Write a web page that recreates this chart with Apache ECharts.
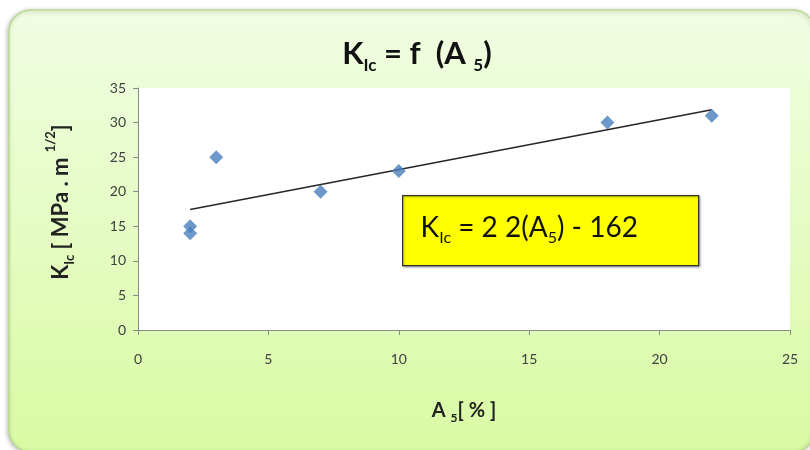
<!DOCTYPE html>
<html>
<head>
<meta charset="utf-8">
<script src="https://cdn.jsdelivr.net/npm/echarts@6/dist/echarts.min.js"></script>
<style>
  html, body { margin: 0; padding: 0; background: #ffffff; }
  #chart { width: 810px; height: 450px; }
</style>
</head>
<body>
<div id="chart"></div>
<script>
// Fracture toughness K_Ic against elongation A5
const elongation = [2, 2, 3, 7, 10, 18, 22];          // A5 [%]
const toughness  = [15, 14, 25, 20, 23, 30, 31];      // K_Ic [MPa.m^1/2]
const xTicks = [0, 5, 10, 15, 20, 25];
const yTicks = [0, 5, 10, 15, 20, 25, 30, 35];

const points = elongation.map((x, i) => [x, toughness[i]]);

// least-squares linear trend over the measured points
const n = points.length;
const sx = elongation.reduce((a, b) => a + b, 0);
const sy = toughness.reduce((a, b) => a + b, 0);
const sxy = points.reduce((a, p) => a + p[0] * p[1], 0);
const sxx = elongation.reduce((a, x) => a + x * x, 0);
const slope = (n * sxy - sx * sy) / (n * sxx - sx * sx);
const icpt = (sy - slope * sx) / n;
const xMin = Math.min(...elongation), xMax = Math.max(...elongation);
const trend = [[xMin, slope * xMin + icpt], [xMax, slope * xMax + icpt]];

const FONT = 'Lato, "Open Sans", sans-serif';

// rich-text styles: base run, lowered subscript, raised superscript
function richSet(size, sub, bold, color) {
  const w = bold ? 'bold' : 'normal';
  const lh = Math.round(size * 1.25);
  return {
    b: { fontFamily: FONT, fontWeight: w, fontSize: size, color: color, fill: color, lineHeight: lh, verticalAlign: 'bottom' },
    s: { fontFamily: FONT, fontWeight: w, fontSize: sub, color: color, fill: color, verticalAlign: 'bottom', padding: [0, 0, -Math.round(size * 0.16), 0] },
    p: { fontFamily: FONT, fontWeight: w, fontSize: sub, color: color, fill: color, verticalAlign: 'top' }
  };
}

const chart = echarts.init(document.getElementById('chart'), null, { renderer: 'canvas' });
chart.setOption({
  animation: false,
  backgroundColor: 'transparent',
  title: {
    text: '{b|K}{s|Ic}{b| = f  (A }{s|5}{b|)}',
    left: 412, top: 25, textAlign: 'center',
    textStyle: { fontSize: 31, fontFamily: FONT, rich: richSet(31, 17, true, '#111') }
  },
  grid: { left: 138, top: 88, right: 20, bottom: 120, show: true, backgroundColor: '#ffffff', borderWidth: 0 },
  xAxis: {
    type: 'value', min: xTicks[0], max: xTicks[xTicks.length - 1], interval: xTicks[1] - xTicks[0],
    name: '{b|A }{s|5}{b|[ % ]}', nameLocation: 'middle', nameGap: 66,
    nameTextStyle: { fontSize: 20, rich: richSet(20, 12, true, '#222') },
    axisLine: { lineStyle: { color: '#8a8a8a', width: 1 } },
    axisTick: { show: true, inside: false, length: 5, lineStyle: { color: '#8a8a8a' } },
    axisLabel: { color: '#404040', fontFamily: FONT, fontSize: 14, margin: 22 },
    splitLine: { show: false }
  },
  yAxis: {
    type: 'value', min: yTicks[0], max: yTicks[yTicks.length - 1], interval: yTicks[1] - yTicks[0],
    axisLine: { show: true, lineStyle: { color: '#8a8a8a', width: 1 } },
    axisTick: { show: true, inside: false, length: 5, lineStyle: { color: '#8a8a8a' } },
    axisLabel: { color: '#404040', fontFamily: FONT, fontSize: 14, margin: 12 },
    splitLine: { show: false }
  },
  graphic: [
    {
      type: 'rect', z: -10, silent: true,
      shape: { x: 9, y: 10, width: 806, height: 442, r: 22 },
      style: {
        fill: new echarts.graphic.LinearGradient(0, 0, 0, 1, [
          { offset: 0, color: '#f1fde3' },
          { offset: 1, color: '#d8fba3' }
        ]),
        stroke: '#b9dc8e', lineWidth: 1.5,
        shadowBlur: 4, shadowColor: 'rgba(0,0,0,0.25)', shadowOffsetX: -1, shadowOffsetY: 1
      }
    },
    {
      // vertical axis title
      type: 'text', x: 58, y: 202, rotation: Math.PI / 2, z: 5,
      style: {
        text: '{b|K}{s|Ic}{b| [ MPa . m }{p|1/2}{b|]}',
        fontSize: 22, align: 'center', verticalAlign: 'middle',
        rich: richSet(22, 13, true, '#222')
      }
    },
    {
      type: 'group', left: 402, top: 195, z: 10,
      children: [
        {
          type: 'rect',
          shape: { x: 0, y: 0, width: 296, height: 70 },
          style: { fill: '#ffff00', stroke: '#333333', lineWidth: 1.2, shadowBlur: 2, shadowColor: 'rgba(0,0,0,0.3)', shadowOffsetX: 1, shadowOffsetY: 1 }
        },
        {
          type: 'text', x: 18, y: 11,
          style: {
            text: '{b|K}{s|Ic}{b| = 2 2(A}{s|5}{b|) - 162}',
            fontSize: 28,
            rich: richSet(28, 16, false, '#111')
          }
        }
      ]
    }
  ],
  series: [
    {
      type: 'line', data: trend, symbol: 'none', z: 3,
      lineStyle: { color: '#262626', width: 1.5 }
    },
    {
      type: 'scatter', data: points, symbol: 'diamond', symbolSize: [14, 14], z: 4,
      itemStyle: { color: '#4a7ebb' }
    }
  ]
});
</script>
</body>
</html>
